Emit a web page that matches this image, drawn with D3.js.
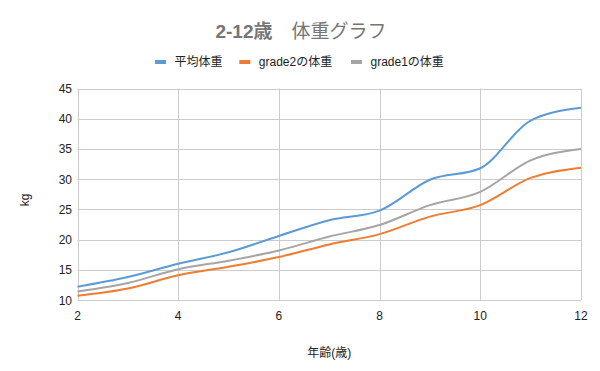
<!DOCTYPE html>
<html>
<head>
<meta charset="utf-8">
<script src="https://cdn.jsdelivr.net/npm/d3@7"></script>
<style>
  html, body { margin: 0; padding: 0; background: #fff; }
  svg { display: block; }
  text { font-family: Arial, "Liberation Sans", "Noto Sans CJK JP", sans-serif; }
</style>
</head>
<body>
<svg id="chart" width="600" height="371"></svg>
<script>
const ages = [2, 3, 4, 5, 6, 7, 8, 9, 10, 11, 12];
const avgWeight = [12.2, 13.8, 16.0, 17.9, 20.6, 23.2, 24.8, 29.9, 31.8, 39.7, 41.8];
const grade2Weight = [10.7, 11.9, 14.1, 15.5, 17.1, 19.2, 20.9, 23.8, 25.7, 30.2, 31.9];
const grade1Weight = [11.4, 12.8, 15.1, 16.5, 18.2, 20.5, 22.4, 25.7, 27.9, 33.1, 35.0];
const seriesNames = ["平均体重", "grade2の体重", "grade1の体重"];
const xTicks = [2, 4, 6, 8, 10, 12];
const yTicks = [10, 15, 20, 25, 30, 35, 40, 45];
const titleMain = "2-12歳";
const titleSub = "体重グラフ";
const xTitle = "年齢(歳)";
const yTitle = "kg";

const colors = ["#5b9bd5", "#ed7d31", "#a5a5a5"];
const seriesValues = [avgWeight, grade2Weight, grade1Weight];

const svg = d3.select("#chart");
const m = { left: 77.5, right: 581, top: 88.5, bottom: 300 };

const x = d3.scaleLinear().domain([2, 12]).range([m.left, m.right]);
const y = d3.scaleLinear().domain([10, 45]).range([m.bottom, m.top]);

// Gridlines
const grid = svg.append("g");
grid.selectAll("line.h").data(yTicks).enter().append("line")
  .attr("x1", m.left).attr("x2", m.right)
  .attr("y1", d => Math.round(y(d)) + 0.5).attr("y2", d => Math.round(y(d)) + 0.5)
  .attr("stroke", "#cccccc").attr("stroke-width", 1);
grid.selectAll("line.v").data(xTicks).enter().append("line")
  .attr("y1", m.top).attr("y2", m.bottom)
  .attr("x1", d => Math.round(x(d)) + 0.5).attr("x2", d => Math.round(x(d)) + 0.5)
  .attr("stroke", "#cccccc").attr("stroke-width", 1);

// Y tick labels
svg.append("g").selectAll("text").data(yTicks).enter().append("text")
  .attr("x", 72).attr("y", d => y(d) + 4.5)
  .attr("text-anchor", "end")
  .attr("font-size", 12).attr("fill", "#222")
  .text(d => d);

// X tick labels
svg.append("g").selectAll("text").data(xTicks).enter().append("text")
  .attr("x", d => x(d)).attr("y", 320)
  .attr("text-anchor", "middle")
  .attr("font-size", 12).attr("fill", "#222")
  .text(d => d);

// Axis titles
svg.append("text").attr("x", (m.left + m.right) / 2).attr("y", 357)
  .attr("text-anchor", "middle").attr("font-size", 12).attr("fill", "#222")
  .text(xTitle);
svg.append("text").attr("transform", "translate(29,200) rotate(-90)")
  .attr("text-anchor", "middle").attr("font-size", 12).attr("fill", "#222")
  .text(yTitle);

// Lines
const line = d3.line()
  .x((d, i) => x(ages[i]))
  .y(d => y(d))
  .curve(d3.curveMonotoneX);

[2, 1, 0].forEach(k => {
  svg.append("path")
    .datum(seriesValues[k])
    .attr("d", line)
    .attr("fill", "none")
    .attr("stroke", colors[k])
    .attr("stroke-width", 2)
    .attr("stroke-linejoin", "round");
});

// Title
const title = svg.append("text").attr("x", 301).attr("y", 37.5)
  .attr("text-anchor", "middle").attr("font-size", 19).attr("fill", "#757575");
title.append("tspan").attr("font-weight", "bold").text(titleMain);
title.append("tspan").attr("font-weight", "normal").text("\u3000" + titleSub);

// Legend
const legendX = [155, 239.3, 351];
const legend = svg.append("g");
seriesNames.forEach((name, i) => {
  legend.append("rect")
    .attr("x", legendX[i]).attr("y", 60).attr("width", 11).attr("height", 4)
    .attr("fill", colors[i]);
  legend.append("text")
    .attr("x", legendX[i] + 19.5).attr("y", 66)
    .attr("font-size", 12).attr("fill", "#222")
    .text(name);
});
</script>
</body>
</html>
